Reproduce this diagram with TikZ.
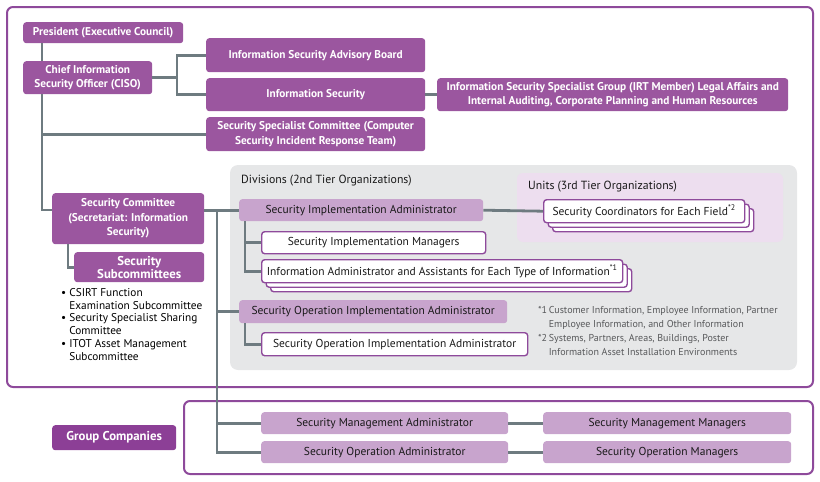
\documentclass[tikz,border=0pt]{standalone}
\usepackage{fontspec}
\setmainfont{PT Sans}
\usetikzlibrary{shadows}
\definecolor{plum}{HTML}{9B569F}
\definecolor{plumdark}{HTML}{8C3F96}
\definecolor{lilac}{HTML}{C8A4CD}
\definecolor{pinkbg}{HTML}{EDDEEF}
\definecolor{panelgray}{HTML}{E6E7E8}
\definecolor{wiregray}{HTML}{6E7B80}
\definecolor{framepurple}{HTML}{8E4A9B}
\definecolor{notegray}{HTML}{58595B}
\tikzset{
  box/.style={anchor=north west, inner sep=0pt, align=center, rounded corners=3pt},
  dark/.style={box, fill=plum, text=white, font=\bfseries\fontsize{11.3}{14.5}\selectfont},
  light/.style={box, fill=lilac, text=black!90, font=\fontsize{11.5}{13}\selectfont},
  outl/.style={box, fill=white, draw=framepurple, line width=1.4pt, text=black!90, font=\fontsize{11.5}{13}\selectfont},
  stack/.style={double copy shadow={shadow xshift=4.5pt, shadow yshift=-4.5pt}},
  wire/.style={draw=wiregray, line width=2.8pt},
  frame/.style={draw=framepurple, line width=2pt, rounded corners=6pt},
  title/.style={anchor=west, inner sep=0pt, text=black!90, font=\fontsize{11.8}{13}\selectfont}
}
\begin{document}
\begin{tikzpicture}[x=1pt, y=-1pt]
    \useasboundingbox (0,0) rectangle (820,482);
    %% frames and panels
    \draw[frame] (7,7) rectangle (813,387);
    \draw[frame] (184,401) rectangle (813,474);
    \fill[panelgray, rounded corners=8pt] (230,165) rectangle (797,370);
    \fill[pinkbg, rounded corners=6pt] (517,173) rectangle (783,242);
    %% top management
    \node[dark, minimum width=160pt, minimum height=21pt] (pres) at (23,22) {President (Executive Council)};
    \node[dark, minimum width=129pt, minimum height=33pt] (ciso) at (23,61) {Chief Information\\Security Officer (CISO)};
    \node[dark, minimum width=219pt, minimum height=34pt] (board) at (206,38) {Information Security Advisory Board};
    \node[dark, minimum width=219pt, minimum height=33pt] (infosec) at (206,78) {Information Security};
    \node[dark, minimum width=351pt, minimum height=33pt] (irt) at (437,78) {Information Security Specialist Group (IRT Member) Legal Affairs and\\Internal Auditing, Corporate Planning and Human Resources};
    \node[dark, minimum width=219pt, minimum height=34pt] (csirt) at (206,117) {Security Specialist Committee (Computer\\Security Incident Response Team)};
    %% committee
    \node[dark, minimum width=152pt, minimum height=51pt] (seccom) at (52,193) {Security Committee\\(Secretariat: Information\\Security)};
    \node[dark, minimum width=130pt, minimum height=30pt, font=\bfseries\fontsize{12.8}{11.5}\selectfont] (subcom) at (74,252) {Security\\Subcommittees};
    \node[anchor=north west, inner sep=0pt, align=left, font=\fontsize{11.3}{12.8}\selectfont] (sublist) at (61,288)
      {• CSIRT Function\\\hphantom{• }Examination Subcommittee\\• Security Specialist Sharing\\\hphantom{• }Committee\\• ITOT Asset Management\\\hphantom{• }Subcommittee};
    %% divisions and units
    \node[title] (divtitle) at (241,181) {Divisions (2nd Tier Organizations)};
    \node[title] (unittitle) at (528,187) {Units (3rd Tier Organizations)};
    \node[light, minimum width=244pt, minimum height=22pt] (implad) at (239,199) {Security Implementation Administrator};
    \node[outl, stack, minimum width=201pt, minimum height=23pt] (coord) at (543,199) {Security Coordinators for Each Field\textsuperscript{*2}};
    \node[outl, minimum width=224pt, minimum height=22pt] (implmgr) at (261,231) {Security Implementation Managers};
    \node[outl, stack, minimum width=361pt, minimum height=23pt] (infoad) at (261,259) {Information Administrator and Assistants for Each Type of Information\textsuperscript{*1}};
    \node[light, minimum width=268pt, minimum height=23pt] (opad) at (239,300) {Security Operation Implementation Administrator};
    \node[outl, minimum width=266pt, minimum height=23pt] (opimpl) at (261,332) {Security Operation Implementation Administrator};
    \node[anchor=north west, inner sep=0pt, text=notegray, font=\fontsize{10}{14}\selectfont] (notes) at (538,303)
      {\begin{tabular}{@{}l@{\,}l@{}}
        {*}1 & Customer Information, Employee Information, Partner\\
             & Employee Information, and Other Information\\
        {*}2 & Systems, Partners, Areas, Buildings, Poster\\
             & Information Asset Installation Environments
      \end{tabular}};
    %% group companies
    \node[dark, fill=plumdark, minimum width=124pt, minimum height=25pt, font=\bfseries\fontsize{12.8}{14}\selectfont] (group) at (52,425) {Group Companies};
    \node[light, minimum width=247pt, minimum height=22pt] (mgmtad) at (261,412) {Security Management Administrator};
    \node[light, minimum width=247pt, minimum height=22pt] (operad) at (261,441) {Security Operation Administrator};
    \node[light, minimum width=248pt, minimum height=22pt] (mgmtmgr) at (543,412) {Security Management Managers};
    \node[light, minimum width=248pt, minimum height=22pt] (opermgr) at (543,441) {Security Operation Managers};
    %% connectors
    \coordinate (t1) at (42,210);
    \coordinate (f1) at (177,0);
    \coordinate (s1) at (68,0);
    \coordinate (t2) at (217,0);
    \coordinate (b3) at (245,0);
    \draw[wire] (pres.south -| t1) -- (ciso.north -| t1);
    \draw[wire] (ciso.south -| t1) -- (t1) -- (seccom.west |- t1);
    \draw[wire] (t1 |- csirt.west) -- (csirt.west);
    \draw[wire] (ciso.east) -- (ciso.east -| f1);
    \draw[wire] (board.west) -| (f1 |- infosec.west) -- (infosec.west);
    \draw[wire] (infosec.east) -- (irt.west);
    \draw[wire] (seccom.south -| s1) |- (subcom.west);
    \draw[wire] (seccom.east |- implad.west) -- (implad.west);
    \draw[wire] (t2 |- implad.west) |- (operad.west);
    \draw[wire] (t2 |- opad.west) -- (opad.west);
    \draw[wire] (t2 |- mgmtad.west) -- (mgmtad.west);
    \draw[wire] (implad.south -| b3) |- (infoad.west);
    \draw[wire] (b3 |- implmgr.west) -- (implmgr.west);
    \draw[wire] (opad.south -| b3) |- (opimpl.west);
    \draw[wire] (implad.east) -- (coord.west);
    \draw[wire] (mgmtad.east) -- (mgmtmgr.west);
    \draw[wire] (operad.east) -- (opermgr.west);
\end{tikzpicture}
\end{document}
